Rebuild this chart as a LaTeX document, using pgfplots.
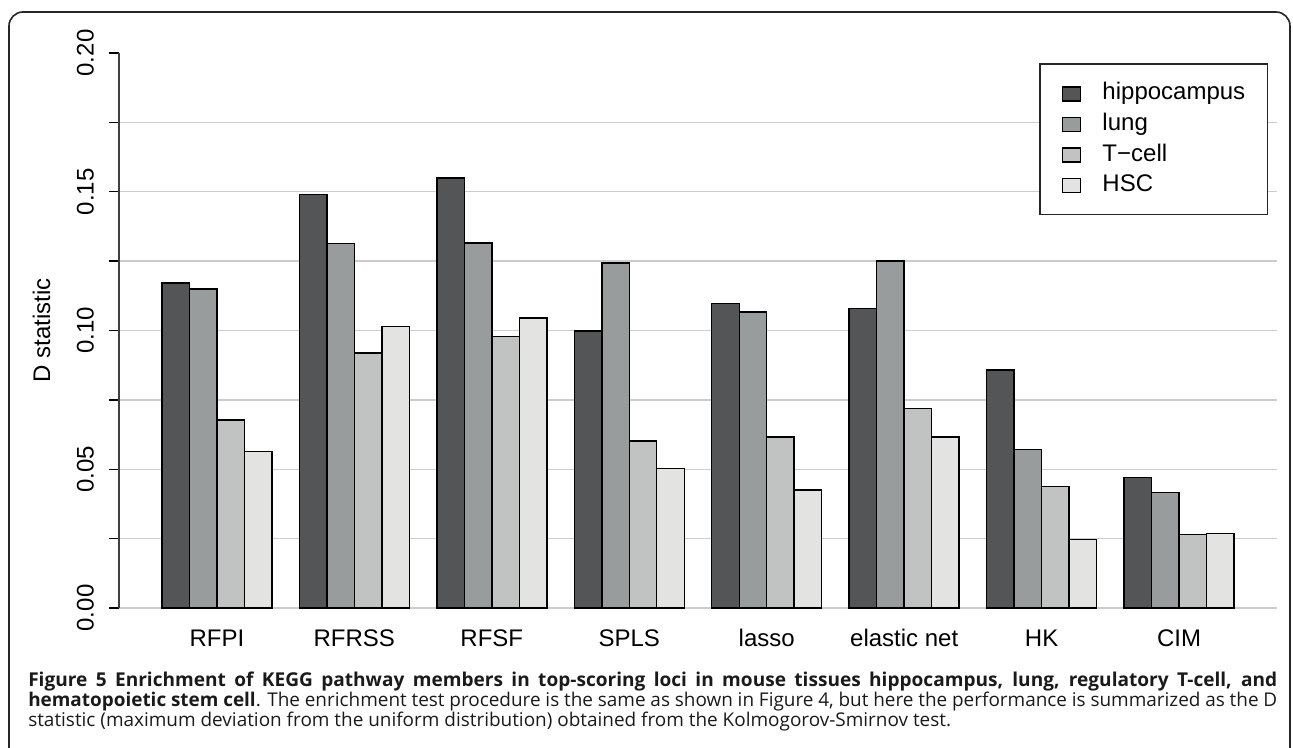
\documentclass[border=0pt]{standalone}
\usepackage{fontspec}
\setmainfont{Liberation Sans}
\newfontfamily\capfont{Open Sans}
\usepackage{pgfplots}
\usepackage{pgfplotstable}
\pgfplotsset{compat=1.18}
\definecolor{cA}{HTML}{535557}
\definecolor{cB}{HTML}{999C9D}
\definecolor{cC}{HTML}{C1C3C2}
\definecolor{cD}{HTML}{E3E3E1}
\definecolor{gridc}{HTML}{CCCCCC}
\definecolor{capc}{HTML}{1A1A1A}
\pgfplotstableread{
g hippo lung tcell hsc
0 0.1171 0.1149 0.0677 0.0563
1 0.1491 0.1313 0.0919 0.1014
2 0.1550 0.1315 0.0979 0.1045
3 0.0998 0.1244 0.0601 0.0502
4 0.1097 0.1067 0.0617 0.0425
5 0.1079 0.1250 0.0719 0.0617
6 0.0857 0.0572 0.0437 0.0246
7 0.0470 0.0416 0.0265 0.0268
}\datatable
\begin{document}
\begin{tikzpicture}
% scope: image pixel coordinates (px,py), origin of axis at pixel (119,608)
\begin{scope}[xshift=-89.25pt, yshift=456pt, x=0.75pt, y=-0.75pt]
\path[use as bounding box] (0,0) rectangle (1293,748);
\draw[line width=1.2pt, color=black!85, rounded corners=10.5pt] (9,830) -- (9,12) -- (1290,12) -- (1290,830);
\end{scope}
\begin{axis}[
  at={(0pt,0pt)}, anchor=south west,
  scale only axis, width=868.5pt, height=416.25pt,
  xmin=-0.712, xmax=7.712, ymin=0, ymax=0.2,
  enlargelimits=false, clip=false,
  axis line style={draw=none},
  ybar=0pt, bar width=0.2,
  xtick={0,...,7},
  xticklabels={RFPI,RFRSS,RFSF,SPLS,lasso,elastic net,HK,CIM},
  ytick={0,0.05,0.1,0.15,0.2},
  ytick pos=left,
  tick align=outside,
  major tick length=7.5pt,
  xtick style={draw=none},
  ytick style={draw=black, line width=1.1pt},
  extra y ticks={0,0.025,0.05,0.075,0.1,0.125,0.15,0.175},
  extra y tick labels={},
  extra y tick style={grid=major, major grid style={draw=gridc, line width=1.1pt}, tick style={draw=none}},
  xticklabel style={font=\fontsize{18}{18}\selectfont, inner sep=0pt, anchor=north, text height=12.9pt, text depth=0pt},
  xticklabel shift=8.25pt,
  yticklabel style={rotate=90, anchor=south, inner sep=0pt, text depth=0pt, font=\fontsize{18}{18}\selectfont,
    /pgf/number format/fixed, /pgf/number format/fixed zerofill, /pgf/number format/precision=2,
    /pgf/number format/assume math mode=true},
  yticklabel shift=11.25pt,
  ylabel={D statistic},
  ylabel style={at={(axis description cs:-0.0669,0.5)}, anchor=center, font=\fontsize{18}{18}\selectfont},
  legend style={at={(axis description cs:0.7953,0.9802)}, anchor=north west,
    draw=black!85, line width=0.9pt, fill=white,
    inner xsep=16.5pt, inner ysep=13.5pt, outer sep=0pt,
    row sep=5.9pt, column sep=16pt,
    font=\fontsize{18}{18}\selectfont,
    nodes={inner sep=0pt, text height=13.5pt, text depth=3.5pt, anchor=base west},
    cells={anchor=base west}},
  legend image code/.code={\draw[#1, draw=black, line width=0.9pt] (0pt,-0.75pt) rectangle (13.5pt,9.75pt);},
]
\draw[draw=black!75, line width=1.1pt] (axis cs:-0.712,0) -- (axis cs:-0.712,0.2);
\addplot[fill=cA, draw=black, line width=1.1pt] table[x=g, y=hippo] {\datatable};
\addplot[fill=cB, draw=black, line width=1.1pt] table[x=g, y=lung] {\datatable};
\addplot[fill=cC, draw=black, line width=1.1pt] table[x=g, y=tcell] {\datatable};
\addplot[fill=cD, draw=black, line width=1.1pt] table[x=g, y=hsc] {\datatable};
\legend{hippocampus, lung, T−cell, HSC}
\end{axis}
\begin{scope}[xshift=-89.25pt, yshift=456pt, x=0.75pt, y=-0.75pt]
\node[anchor=base west, inner sep=0pt, text=capc, font=\capfont\fontsize{14.3}{15}\selectfont] at (28,687)
  {\hbox to 936.75pt{\bfseries Figure 5 Enrichment of KEGG pathway members in top-scoring loci in mouse tissues hippocampus, lung, regulatory T-cell, and}};
\node[anchor=base west, inner sep=0pt, text=capc, font=\capfont\fontsize{14.2}{15}\selectfont] at (28,707)
  {\hbox to 936.75pt{\textbf{hematopoietic stem cell}. The enrichment test procedure is the same as shown in Figure 4, but here the performance is summarized as the D}};
\node[anchor=base west, inner sep=0pt, text=capc, font=\capfont\fontsize{14.2}{15}\selectfont] at (28,727)
  {statistic (maximum deviation from the uniform distribution) obtained from the Kolmogorov-Smirnov test.};
\end{scope}
\end{tikzpicture}
\end{document}
